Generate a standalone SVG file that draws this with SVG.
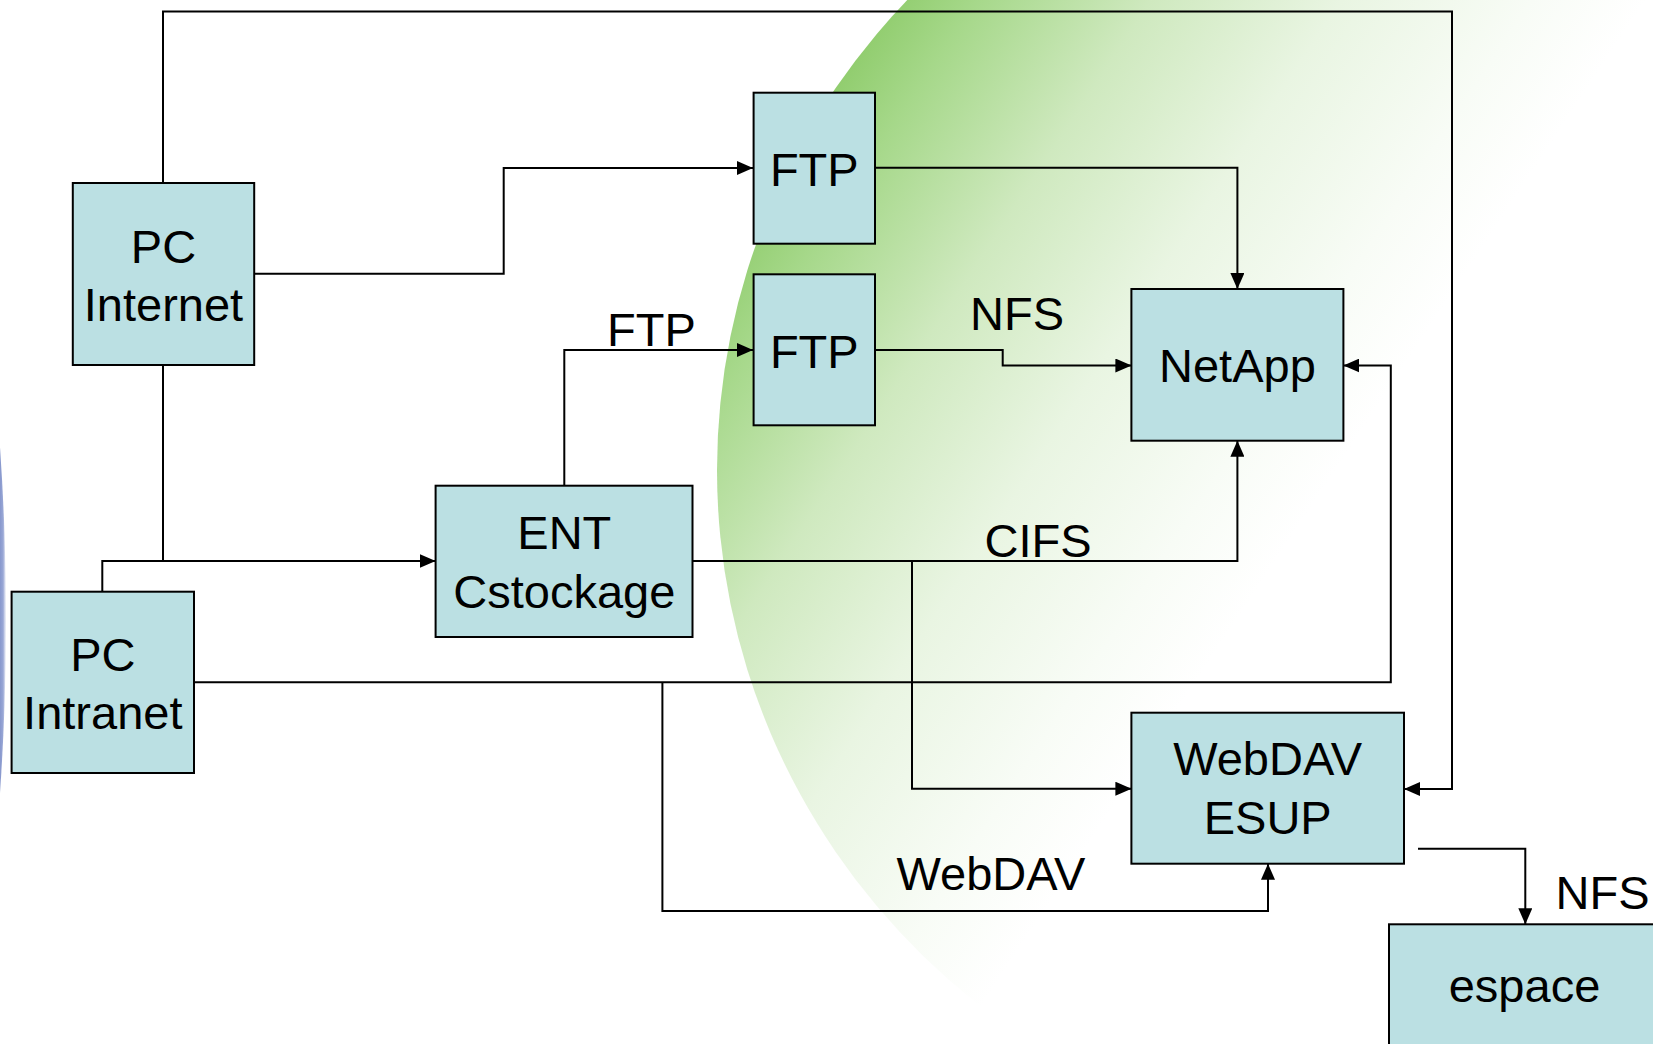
<svg xmlns="http://www.w3.org/2000/svg" width="1653" height="1044" viewBox="0 0 1653 1044">
  <defs>
    <linearGradient id="greenGrad" gradientUnits="userSpaceOnUse" x1="720" y1="250" x2="1250" y2="600">
      <stop offset="0" stop-color="#8fcc6c"/>
      <stop offset="0.12" stop-color="#a6d88a"/>
      <stop offset="0.35" stop-color="#cfe9bf"/>
      <stop offset="0.6" stop-color="#e9f5e2"/>
      <stop offset="0.85" stop-color="#f8fcf6"/>
      <stop offset="1" stop-color="#ffffff"/>
    </linearGradient>
    <linearGradient id="blueGrad" gradientUnits="userSpaceOnUse" x1="-4" y1="0" x2="8" y2="0">
      <stop offset="0" stop-color="#7083c2"/>
      <stop offset="0.6" stop-color="#9aa8d6"/>
      <stop offset="1" stop-color="#ffffff" stop-opacity="0"/>
    </linearGradient>
    <marker id="arrow" markerUnits="userSpaceOnUse" markerWidth="16" markerHeight="14" refX="16" refY="7" orient="auto">
      <path d="M0,0 L16,7 L0,14 z" fill="#000"/>
    </marker>
    <style>
      .box { fill: #bbe0e3; stroke: #000; stroke-width: 2; }
      .lbl { font-family: "Liberation Sans", Arial, sans-serif; font-size: 47px; fill: #000; text-anchor: middle; }
      .con { fill: none; stroke: #000; stroke-width: 2; }
      .arr { marker-end: url(#arrow); }
    </style>
  </defs>

  <rect x="0" y="0" width="1653" height="1044" fill="#ffffff"/>
  <g id="background">
    <ellipse cx="1420" cy="470" rx="703" ry="687" fill="url(#greenGrad)"/>
    <ellipse cx="-300" cy="620" rx="306" ry="876" fill="url(#blueGrad)"/>
  </g>

  <g id="connectors">
    <path class="con arr" d="M163,183 V11.5 H1452 V789 H1404"/>
    <path class="con arr" d="M254,273.7 H503.7 V168 H753"/>
    <path class="con" d="M163,365 V561"/>
    <path class="con arr" d="M102.3,591.7 V561 H435.6"/>
    <path class="con arr" d="M564.3,485.7 V350 H753"/>
    <path class="con arr" d="M875,167.7 H1237.4 V289"/>
    <path class="con arr" d="M875,350 H1002.7 V365.5 H1131.4"/>
    <path class="con arr" d="M692.5,561 H1237.4 V440.7"/>
    <path class="con arr" d="M912,561 V788.7 H1131.4"/>
    <path class="con arr" d="M194,682.3 H1390.8 V365.5 H1343.4"/>
    <path class="con arr" d="M662.4,682.3 V911 H1268 V863.7"/>
    <path class="con arr" d="M1418,848.7 H1525.3 V924.3"/>
    <text class="lbl" x="651.5" y="345.7">FTP</text>
    <text class="lbl" x="1017" y="330">NFS</text>
    <text class="lbl" x="1038" y="557">CIFS</text>
    <text class="lbl" x="991" y="889.7">WebDAV</text>
    <text class="lbl" x="1602.6" y="909">NFS</text>
  </g>

  <g id="pc-internet">
    <rect class="box" x="72.8" y="183" width="181.4" height="182"/>
    <text class="lbl" x="163.5" y="263">PC</text>
    <text class="lbl" x="163.5" y="321">Internet</text>
  </g>
  <g id="ftp1">
    <rect class="box" x="753.6" y="92.7" width="121.4" height="151"/>
    <text class="lbl" x="814.3" y="185.7">FTP</text>
  </g>
  <g id="ftp2">
    <rect class="box" x="753.6" y="274.3" width="121.4" height="151"/>
    <text class="lbl" x="814.3" y="367.7">FTP</text>
  </g>
  <g id="netapp">
    <rect class="box" x="1131.4" y="289" width="212" height="151.7"/>
    <text class="lbl" x="1237.4" y="382.3">NetApp</text>
  </g>
  <g id="ent-cstockage">
    <rect class="box" x="435.6" y="485.7" width="256.9" height="151.3"/>
    <text class="lbl" x="564.3" y="549">ENT</text>
    <text class="lbl" x="564.3" y="607.5">Cstockage</text>
  </g>
  <g id="pc-intranet">
    <rect class="box" x="11.6" y="591.7" width="182.4" height="181.3"/>
    <text class="lbl" x="102.8" y="671">PC</text>
    <text class="lbl" x="102.8" y="729">Intranet</text>
  </g>
  <g id="webdav-esup">
    <rect class="box" x="1131.4" y="712.7" width="272.6" height="151"/>
    <text class="lbl" x="1267.7" y="775.3">WebDAV</text>
    <text class="lbl" x="1267.7" y="834.3">ESUP</text>
  </g>
  <g id="espace">
    <rect class="box" x="1389" y="924.3" width="280" height="160"/>
    <text class="lbl" x="1524.5" y="1002">espace</text>
  </g>
</svg>
